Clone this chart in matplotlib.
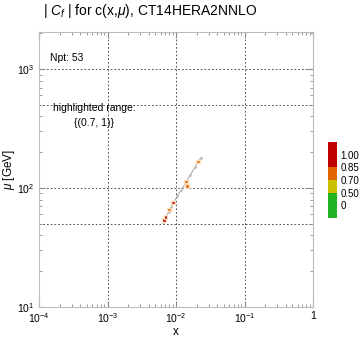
import matplotlib
matplotlib.use("Agg")
import matplotlib.pyplot as plt
import numpy as np

# all points of the set (grey trail)
x_all = [0.0064, 0.0068, 0.0072, 0.0078, 0.0085, 0.0093, 0.0105, 0.0120, 0.0140, 0.0160, 0.0190, 0.0230]
mu_all = [52, 55, 58, 63, 69, 76, 86, 97, 112, 128, 150, 180]

# highlighted points and their |C_f| value
x_hi = [0.0067, 0.0070, 0.0079, 0.0090, 0.0140, 0.0145, 0.0210]
mu_hi = [54, 57, 66, 76, 114, 104, 168]
cf_hi = [0.90, 0.92, 0.78, 0.90, 0.76, 0.74, 0.82]

cb_labels = ["0", "0.50", "0.70", "0.85", "1.00"]
cb_colors = ["#22b422", "#ccc000", "#e06400", "#c00000"]
cb_heights = [2, 1, 1, 2]


def cf_color(v):
    if v >= 0.85:
        return "#c00000"
    if v >= 0.7:
        return "#e06400"
    if v >= 0.5:
        return "#ccc000"
    return "#22b422"


plt.rcParams['font.family'] = ['Liberation Sans', 'DejaVu Sans']
plt.rcParams['mathtext.fontset'] = 'custom'
plt.rcParams['mathtext.rm'] = 'Liberation Sans'
plt.rcParams['mathtext.it'] = 'Liberation Sans:italic'

fig = plt.figure(figsize=(3.6, 3.4), dpi=100)
ax = fig.add_axes([39 / 360, 1 - 307 / 340, 274 / 360, 275 / 340])
ax.set_xscale('log')
ax.set_yscale('log')
ax.set_xlim(1e-4, 1)
ax.set_ylim(10, 2050)

for v in [1e-3, 1e-2, 1e-1]:
    ax.axvline(v, color='#333333', ls=(0, (2, 2.5)), lw=0.6, zorder=1)
for v in [50, 100, 500, 1000]:
    ax.axhline(v, color='#333333', ls=(0, (2, 2.5)), lw=0.6, zorder=1)

ax.plot(x_all, mu_all, color='#999999', lw=0.6, zorder=2)
ax.scatter(x_all, mu_all, s=1, color='#bbbbbb', zorder=2)
ax.scatter(x_hi, mu_hi, s=6, marker='s', color=[cf_color(v) for v in cf_hi],
           edgecolors='#ffe0c0', linewidths=1.0, zorder=3)

ax.set_xticks([1e-4, 1e-3, 1e-2, 1e-1, 1])
ax.set_xticklabels(['$10^{-4}$', '$10^{-3}$', '$10^{-2}$', '$10^{-1}$', '1'])
ax.tick_params(which='both', direction='in', top=True, right=True,
               labelsize=7.5, color='#888888')
ax.tick_params(which='major', length=4)
ax.tick_params(which='minor', length=2)
ax.tick_params(axis='x', pad=3)
for s in ax.spines.values():
    s.set_color('#bbbbbb')
    s.set_linewidth(0.8)

ax.set_xlabel('x', fontsize=8.5, labelpad=1)
ax.set_ylabel(r'$\mu$ [GeV]', fontsize=8.5)
ax.yaxis.set_label_coords(-22 / 274, 0.5)

fig.text(50 / 360, 1 - 58 / 340, 'Npt: 53', fontsize=7.5, va='center')
fig.text(94 / 360, 1 - 108 / 340, 'highlighted range:', fontsize=7.5,
         ha='center', va='center')
fig.text(94 / 360, 1 - 123 / 340, '{(0.7, 1)}', fontsize=7.5,
         ha='center', va='center')

fig.text(43 / 360, 1 - 11 / 340, r'| $C_f$ | for c(x,$\mu$), CT14HERA2NNLO',
         fontsize=10, ha='left', va='center')

# discrete colour legend
cax = fig.add_axes([327.5 / 360, 1 - 218 / 340, 9 / 360, 76 / 340])
bottoms = np.cumsum([0] + cb_heights[:-1])
cax.bar([0] * 4, cb_heights, bottom=bottoms, width=1, color=cb_colors)
cax.set_xlim(-0.5, 0.5)
cax.set_ylim(0, 6)
cax.set_xticks([])
cax.set_yticks([1, 2, 3, 4, 5])
cax.set_yticklabels(cb_labels)
cax.yaxis.tick_right()
cax.tick_params(length=0, labelsize=7, pad=3)
for s in cax.spines.values():
    s.set_visible(False)

fig.savefig('out.png', dpi=100)
